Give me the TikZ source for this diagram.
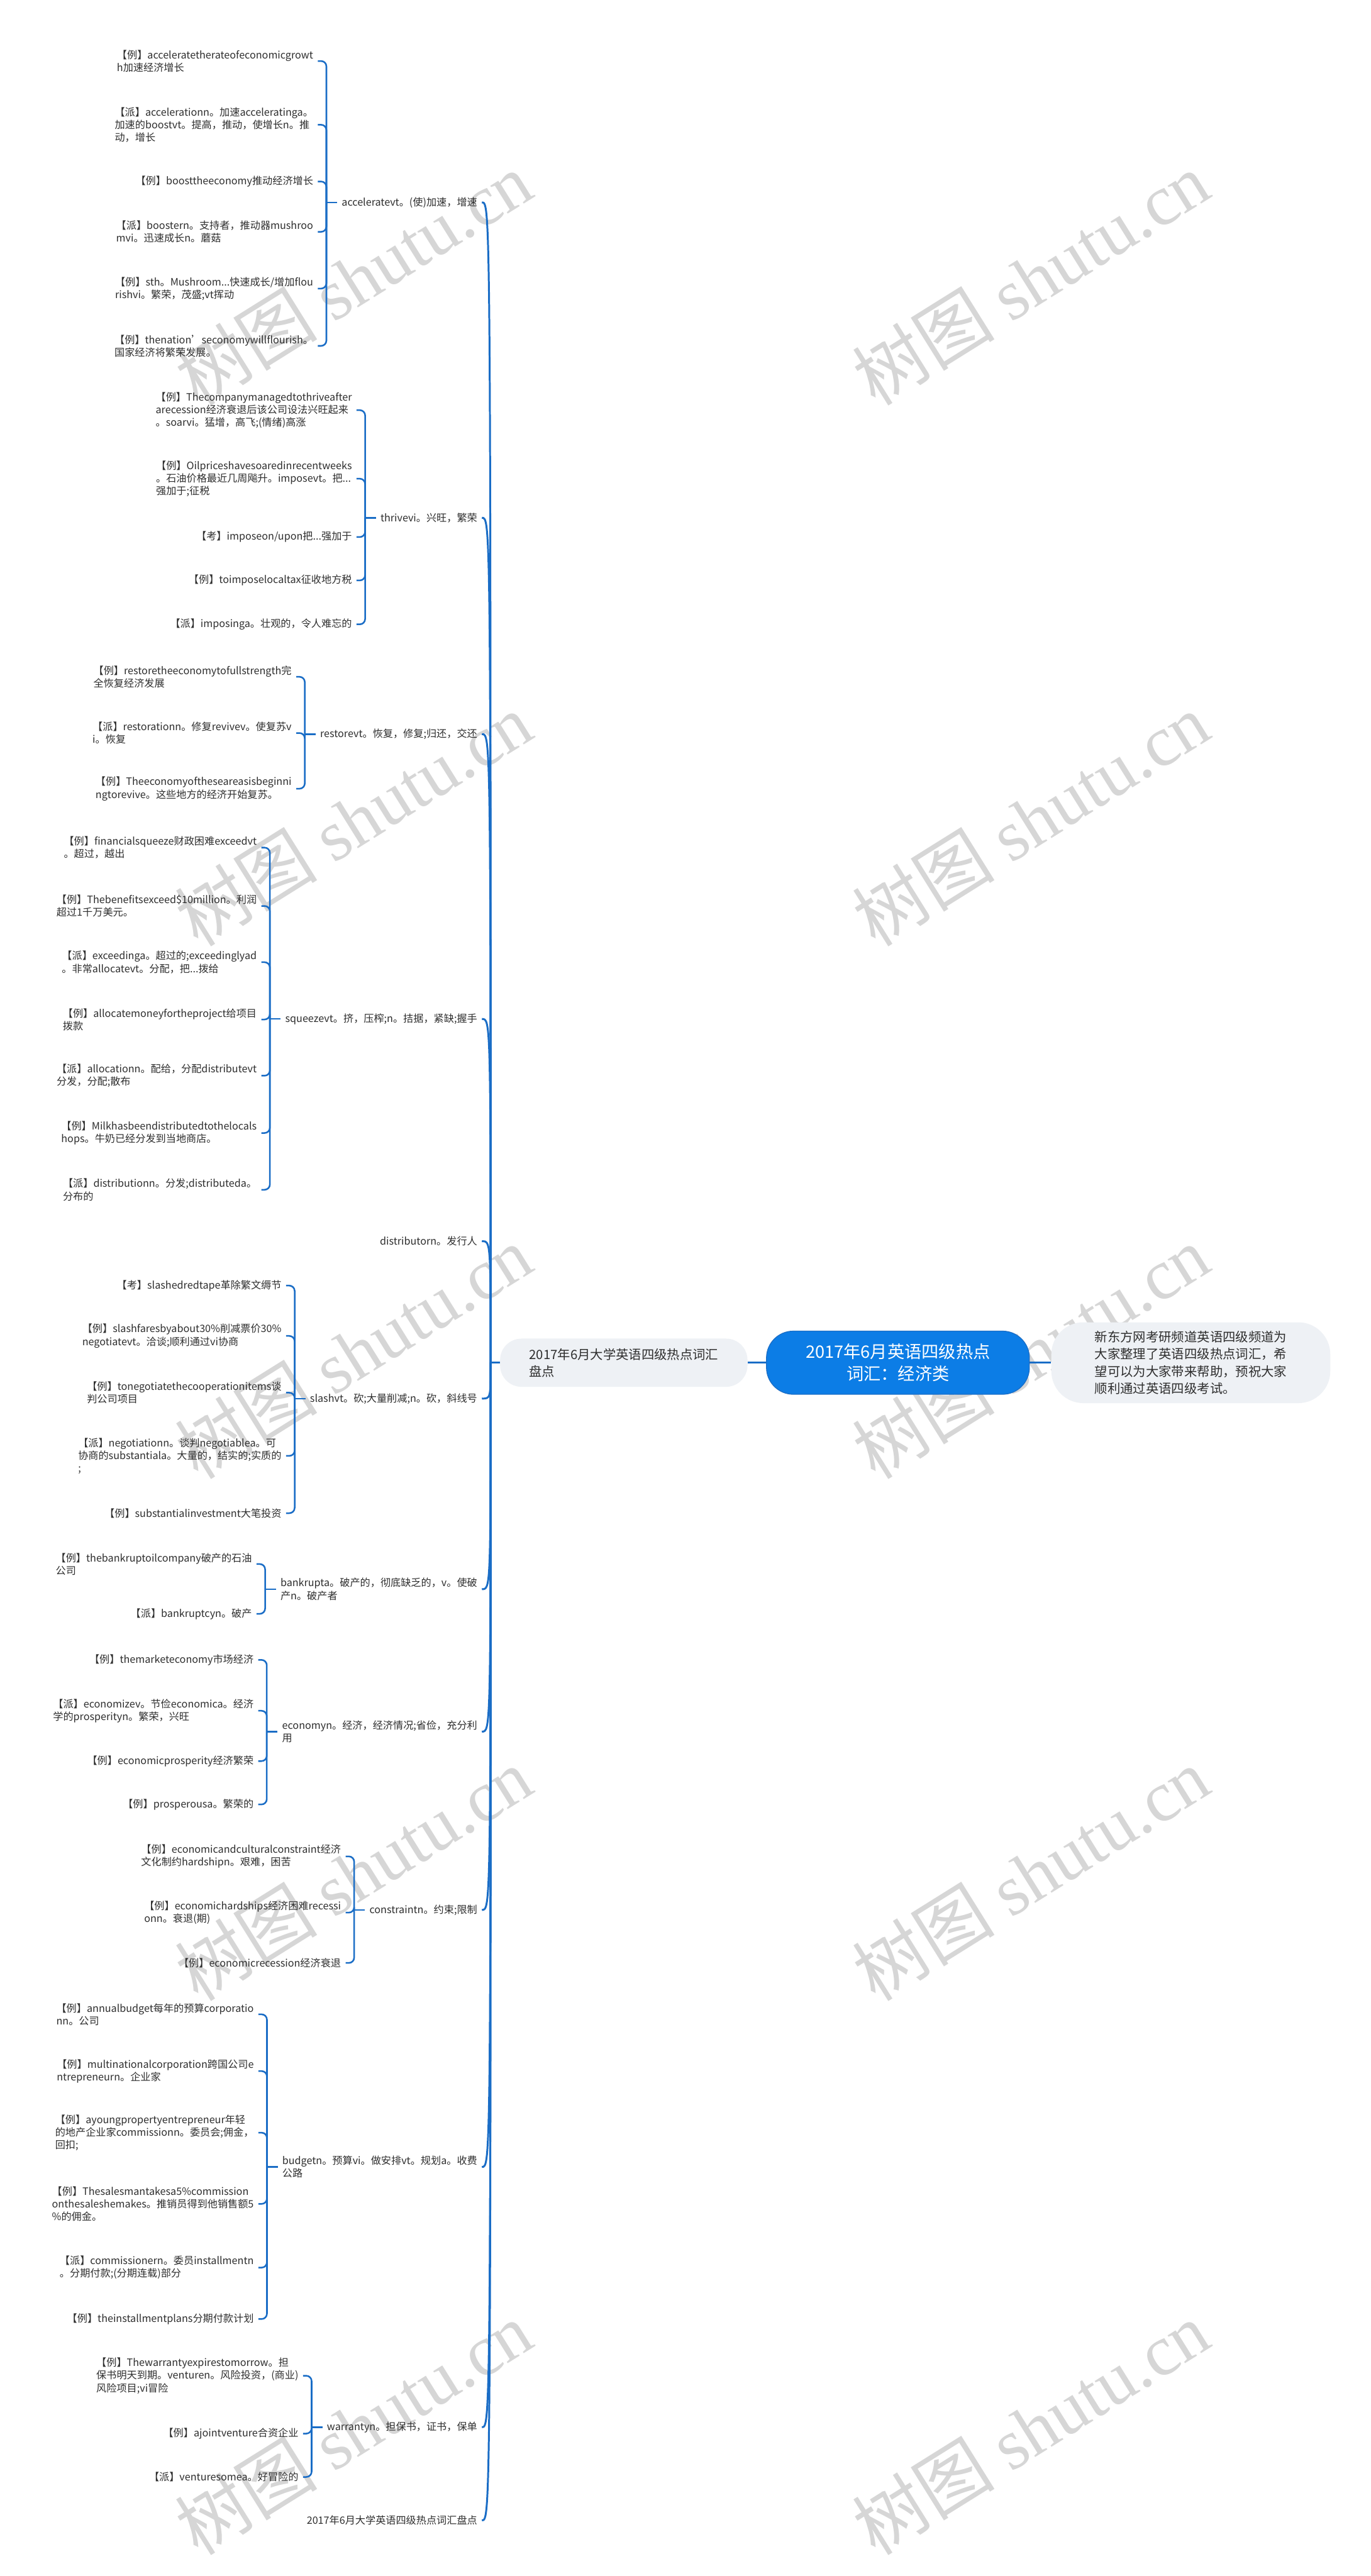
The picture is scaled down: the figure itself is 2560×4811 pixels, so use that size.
\documentclass[tikz,border=0pt]{standalone}
\usepackage{fontspec}
\setmainfont{Noto Sans CJK SC}
\newfontfamily\wmserif{Liberation Serif}
\usetikzlibrary{positioning,calc}
\definecolor{wire}{HTML}{1A6DC6}
\definecolor{rootfill}{HTML}{0C7DE6}
\definecolor{boxfill}{HTML}{EEF1F5}
\definecolor{ink}{HTML}{2E2E2E}
\definecolor{mark}{HTML}{D6D6D6}
\newcommand\leafsize{\fontsize{5.4pt}{6.75pt}\selectfont}
\newcommand\sumsize{\fontsize{6.8pt}{9.1pt}\selectfont}
\newcommand\rootsize{\fontsize{9.1pt}{11.85pt}\selectfont}
\newcommand\wmsize{\fontsize{38pt}{40pt}\selectfont}
\tikzset{
  topic/.style={anchor=east,align=left,inner sep=0.8mm,text=ink,font=\leafsize},
  leaf/.style={topic,xshift=-1.6mm},
  bough/.style={draw=wire,line width=0.35mm},
  brace/.style={draw=wire,line width=0.3mm,rounded corners=1mm},
  wmark/.style={text=mark,rotate=32,font=\wmsize},
}

\begin{document}
\begin{tikzpicture}[x=0.1mm,y=-0.1mm]
\useasboundingbox (0,0) rectangle (2560,4811);
\fill[white] (0,0) rectangle (2560,4811);
% watermark
\foreach \wy in {520,1530,2525,3500,4535}{\node[wmark] at (660,\wy){树图 {\wmserif shutu.cn}};\node[wmark] at (1925,\wy){树图 {\wmserif shutu.cn}};}
% centre
\node[fill=rootfill,draw=wire,line width=0.15mm,rounded corners=5mm,minimum width=49.1mm,minimum height=11.8mm,align=center,text=white,font=\rootsize] (root) at (1677,2545){2017年6月英语四级热点\\词汇：经济类};
\node[fill=boxfill,rounded corners=4mm,minimum width=46.2mm,minimum height=9mm,align=left,text=ink,font=\sumsize] (sum) at (1165,2545){2017年6月大学英语四级热点词汇\\盘点};
\node[fill=boxfill,rounded corners=6mm,minimum width=52.1mm,minimum height=15.1mm,align=left,text=ink,font=\sumsize] (note) at (2224,2545){新东方网考研频道英语四级频道为\\大家整理了英语四级热点词汇，希\\望可以为大家带来帮助，预祝大家\\顺利通过英语四级考试。};
\coordinate (J) at ($(sum.west)+(-17,0)$);
\draw[bough] (sum.west)--(J);\draw[bough] (sum.east)--(root.west);\draw[bough] (root.east)--(note.west);
% topics
\node[topic] (acc) at (900,378){acceleratevt。(使)加速，增速};
\node[topic] (thr) at (900,967){thrivevi。兴旺，繁荣};
\node[topic] (res) at (900,1371){restorevt。恢复，修复;归还，交还};
\node[topic] (squ) at (900,1903){squeezevt。挤，压榨;n。拮据，紧缺;握手};
\node[topic] (dis) at (900,2318){distributorn。发行人};
\node[topic] (sla) at (900,2612){slashvt。砍;大量削减;n。砍，斜线号};
\node[topic] (ban) at (900,2968){bankrupta。破产的，彻底缺乏的，v。使破\\产n。破产者};
\node[topic] (eco) at (900,3234){economyn。经济，经济情况;省俭，充分利\\用};
\node[topic] (con) at (900,3567){constraintn。约束;限制};
\node[topic] (bud) at (900,4047){budgetn。预算vi。做安排vt。规划a。收费\\公路};
\node[topic] (war) at (900,4533){warrantyn。担保书，证书，保单};
\node[topic] (pan) at (900,4707){2017年6月大学英语四级热点词汇盘点};
\foreach \t in {acc,thr,res,squ,dis,sla,ban,eco,con,bud,war,pan}{\draw[bough] (J) .. controls (J |- \t.east) .. (\t.east);}
% accelerate
\coordinate (accb) at ($(acc.west)+(-20,0)$);
\node[leaf] (a1) at (accb |- 0,114){【例】acceleratetherateofeconomicgrowt\\h加速经济增长};
\node[leaf] (a2) at (accb |- 0,233){【派】accelerationn。加速acceleratinga。\\加速的boostvt。提高，推动，使增长n。推\\动，增长};
\node[leaf] (a3) at (accb |- 0,339){【例】boosttheeconomy推动经济增长};
\node[leaf] (a4) at (accb |- 0,433){【派】boostern。支持者，推动器mushroo\\mvi。迅速成长n。蘑菇};
\node[leaf] (a5) at (accb |- 0,539){【例】sth。Mushroom...快速成长/增加flou\\rishvi。繁荣，茂盛;vt挥动};
\node[leaf] (a6) at (accb |- 0,646){【例】thenation’seconomywillflourish。\\国家经济将繁荣发展。};
\draw[brace] (acc.west)--(accb);\foreach \i in {1,...,6}{\draw[brace] (accb) |- (a\i.east);}
% thrive
\coordinate (thrb) at ($(thr.west)+(-20,0)$);
\node[leaf] (t1) at (thrb |- 0,766){【例】Thecompanymanagedtothriveafter\\arecession经济衰退后该公司设法兴旺起来\\。soarvi。猛增，高飞;(情绪)高涨};
\node[leaf] (t2) at (thrb |- 0,894){【例】Oilpriceshavesoaredinrecentweeks\\。石油价格最近几周飚升。imposevt。把...\\强加于;征税};
\node[leaf] (t3) at (thrb |- 0,1003){【考】imposeon/upon把...强加于};
\node[leaf] (t4) at (thrb |- 0,1084){【例】toimposelocaltax征收地方税};
\node[leaf] (t5) at (thrb |- 0,1166){【派】imposinga。壮观的，令人难忘的};
\draw[brace] (thr.west)--(thrb);\foreach \i in {1,...,5}{\draw[brace] (thrb) |- (t\i.east);}
% restore
\coordinate (resb) at ($(res.west)+(-20,0)$);
\node[leaf] (r1) at (resb |- 0,1264){【例】restoretheeconomytofullstrength完\\全恢复经济发展};
\node[leaf] (r2) at (resb |- 0,1369){【派】restorationn。修复revivev。使复苏v\\i。恢复};
\node[leaf] (r3) at (resb |- 0,1473){【例】Theeconomyoftheseareasisbeginni\\ngtorevive。这些地方的经济开始复苏。};
\draw[brace] (res.west)--(resb);\foreach \i in {1,...,3}{\draw[brace] (resb) |- (r\i.east);}
% squeeze
\coordinate (squb) at ($(squ.west)+(-20,0)$);
\node[leaf] (s1) at (squb |- 0,1583){【例】financialsqueeze财政困难exceedvt\\。超过，越出};
\node[leaf] (s2) at (squb |- 0,1692){【例】Thebenefitsexceed\$10million。利润\\超过1千万美元。};
\node[leaf] (s3) at (squb |- 0,1797){【派】exceedinga。超过的;exceedinglyad\\。非常allocatevt。分配，把...拨给};
\node[leaf] (s4) at (squb |- 0,1904){【例】allocatemoneyfortheproject给项目\\拨款};
\node[leaf] (s5) at (squb |- 0,2009){【派】allocationn。配给，分配distributevt\\分发，分配;散布};
\node[leaf] (s6) at (squb |- 0,2116){【例】Milkhasbeendistributedtothelocals\\hops。牛奶已经分发到当地商店。};
\node[leaf] (s7) at (squb |- 0,2222){【派】distributionn。分发;distributeda。\\分布的};
\draw[brace] (squ.west)--(squb);\foreach \i in {1,...,7}{\draw[brace] (squb) |- (s\i.east);}
% slash
\coordinate (slab) at ($(sla.west)+(-20,0)$);
\node[leaf] (l1) at (slab |- 0,2401){【考】slashedredtape革除繁文缛节};
\node[leaf] (l2) at (slab |- 0,2495){【例】slashfaresbyabout30\%削减票价30\%\\negotiatevt。洽谈;顺利通过vi协商};
\node[leaf] (l3) at (slab |- 0,2601){【例】tonegotiatethecooperationitems谈\\判公司项目};
\node[leaf] (l4) at (slab |- 0,2719){【派】negotiationn。谈判negotiablea。可\\协商的substantiala。大量的，结实的;实质的\\;};
\node[leaf] (l5) at (slab |- 0,2826){【例】substantialinvestment大笔投资};
\draw[brace] (sla.west)--(slab);\foreach \i in {1,...,5}{\draw[brace] (slab) |- (l\i.east);}
% bankrupt
\coordinate (banb) at ($(ban.west)+(-20,0)$);
\node[leaf] (k1) at (banb |- 0,2921){【例】thebankruptoilcompany破产的石油\\公司};
\node[leaf] (k2) at (banb |- 0,3014){【派】bankruptcyn。破产};
\draw[brace] (ban.west)--(banb);\foreach \i in {1,2}{\draw[brace] (banb) |- (k\i.east);}
% economy
\coordinate (ecob) at ($(eco.west)+(-20,0)$);
\node[leaf] (e1) at (ecob |- 0,3100){【例】themarketeconomy市场经济};
\node[leaf] (e2) at (ecob |- 0,3195){【派】economizev。节俭economica。经济\\学的prosperityn。繁荣，兴旺};
\node[leaf] (e3) at (ecob |- 0,3289){【例】economicprosperity经济繁荣};
\node[leaf] (e4) at (ecob |- 0,3370){【例】prosperousa。繁荣的};
\draw[brace] (eco.west)--(ecob);\foreach \i in {1,...,4}{\draw[brace] (ecob) |- (e\i.east);}
% constraint
\coordinate (conb) at ($(con.west)+(-20,0)$);
\node[leaf] (c1) at (conb |- 0,3467){【例】economicandculturalconstraint经济\\文化制约hardshipn。艰难，困苦};
\node[leaf] (c2) at (conb |- 0,3572){【例】economichardships经济困难recessi\\onn。衰退(期)};
\node[leaf] (c3) at (conb |- 0,3666){【例】economicrecession经济衰退};
\draw[brace] (con.west)--(conb);\foreach \i in {1,...,3}{\draw[brace] (conb) |- (c\i.east);}
% budget
\coordinate (budb) at ($(bud.west)+(-20,0)$);
\node[leaf] (b1) at (budb |- 0,3762){【例】annualbudget每年的预算corporatio\\nn。公司};
\node[leaf] (b2) at (budb |- 0,3868){【例】multinationalcorporation跨国公司e\\ntrepreneurn。企业家};
\node[leaf] (b3) at (budb |- 0,3983){【例】ayoungpropertyentrepreneur年轻\\的地产企业家commissionn。委员会;佣金，\\回扣;};
\node[leaf] (b4) at (budb |- 0,4116){【例】Thesalesmantakesa5\%commission\\onthesaleshemakes。推销员得到他销售额5\\\%的佣金。};
\node[leaf] (b5) at (budb |- 0,4235){【派】commissionern。委员installmentn\\。分期付款;(分期连载)部分};
\node[leaf] (b6) at (budb |- 0,4331){【例】theinstallmentplans分期付款计划};
\draw[brace] (bud.west)--(budb);\foreach \i in {1,...,6}{\draw[brace] (budb) |- (b\i.east);}
% warranty
\coordinate (warb) at ($(war.west)+(-20,0)$);
\node[leaf] (w1) at (warb |- 0,4437){【例】Thewarrantyexpirestomorrow。担\\保书明天到期。venturen。风险投资，(商业)\\风险项目;vi冒险};
\node[leaf] (w2) at (warb |- 0,4545){【例】ajointventure合资企业};
\node[leaf] (w3) at (warb |- 0,4626){【派】venturesomea。好冒险的};
\draw[brace] (war.west)--(warb);\foreach \i in {1,...,3}{\draw[brace] (warb) |- (w\i.east);}
\end{tikzpicture}
\end{document}
